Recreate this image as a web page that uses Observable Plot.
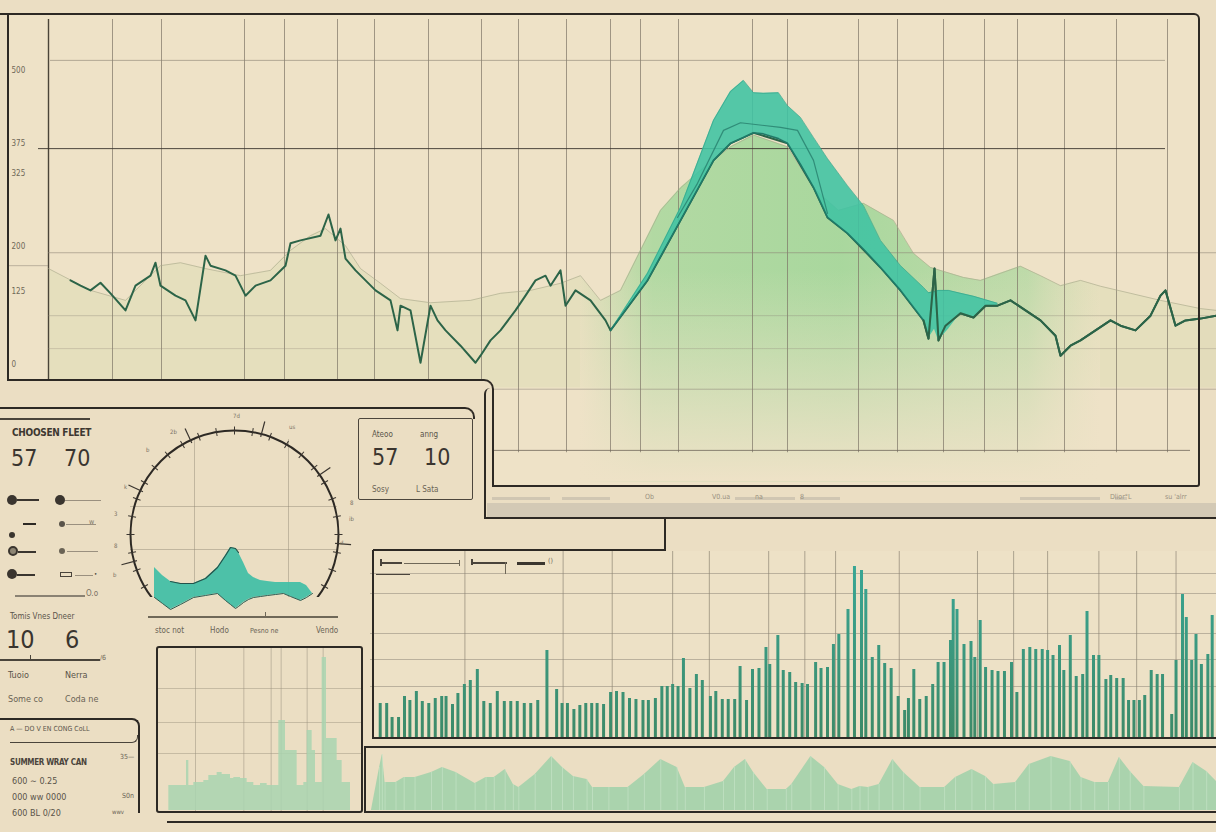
<!DOCTYPE html>
<html><head><meta charset="utf-8">
<script src="https://cdn.jsdelivr.net/npm/d3@7"></script>
<script src="https://cdn.jsdelivr.net/npm/@observablehq/plot@0.6"></script>
<style>
html,body{margin:0;padding:0;background:#ebdec3;}
#stage{position:relative;width:1216px;height:832px;overflow:hidden;background:#ebdec3;font-family:"DejaVu Sans Condensed","Liberation Sans Narrow",sans-serif;color:#4a443b;}
</style></head><body><div id="stage"></div>
<script>
// ---------- DATA ----------
// main chart (t = time index, v = value)
const yTicks = [0,125,200,325,375,500];
const gridT = [64,113,196,236,289,326,380,433,470,518,562,592,630,704,739,810,849,895,936,969,1016,1068,1119];
const mainT = [22,32,42,52,62,77,87,102,107,112,127,137,147,157,162,177,187,197,207,222,237,242,252,272,280,287,292,297,307,317,327,342,349,352,362,372,382,389,397,412,427,432,442,452,467,477,487,497,502,512,517,527,542,557,562,599,632,665,682,705,739,765,779,799,832,852,875,880,886,890,897,912,925,937,949,962,977,992,1007,1012,1022,1032,1047,1062,1072,1087,1102,1112,1117,1127,1137,1152,1168];
const mainV = [143,134,126,139,121,92,134,151,173,134,117,109,75,185,168,160,151,117,134,143,168,206,211,219,255,211,231,180,160,143,126,109,58,100,92,3,100,75,58,32,3,15,41,58,92,117,143,151,134,160,100,126,109,75,58,143,245,347,376,394,376,301,250,223,165,126,75,44,163,41,66,87,80,100,100,109,92,75,49,15,32,41,58,75,66,58,83,117,126,66,75,78,83];
const tealT  = [562,599,632,665,682,695,705,715,730,739,752,765,779,799,815,832,852,875,880,886,890,900,912,925,937,949];
const tealHi = [58,155,267,415,464,483,462,461,462,440,420,386,350,304,270,211,168,131,122,124,126,126,121,116,110,104];
const tealLo = [58,143,245,347,376,386,394,392,384,376,340,301,250,223,196,165,126,75,44,60,41,60,87,80,100,100];
const midT = [629,649,675,692,732,749,765,779];
const midV = [250,308,398,411,403,398,347,257];
const ridgeT = [0,42,77,112,132,157,192,222,242,262,277,297,312,332,352,382,422,452,482,512,532,552,572,612,632,652,682,705,739,765,790,815,845,865,882,915,932,952,972,992,1012,1032,1052,1082,1112,1152,1168];
const ridgeV = [163,126,109,168,173,163,151,160,194,219,231,202,163,138,112,105,109,121,126,138,151,109,126,262,300,330,370,390,370,300,262,274,245,189,165,148,143,155,167,151,134,143,133,121,109,95,92];

// bar chart
const barT = [18,30,40,52,63,73,85,96,108,120,132,140,152,162,174,185,198,210,222,235,248,260,272,285,297,310,327,345,355,365,377,388,399,410,420,432,445,456,468,480,492,505,515,528,540,550,560,570,580,592,604,615,630,640,652,663,675,685,697,708,720,733,740,755,765,777,788,800,810,825,835,847,858,868,885,897,910,918,930,942,953,965,978,990,997,1007,1018,1030,1042,1052,1063,1075,1080,1087,1100,1113,1120,1130,1140,1152,1163,1175,1188,1198,1210,1222,1233,1245,1255,1265,1277,1285,1297,1308,1320,1328,1340,1350,1363,1372,1383,1395,1405,1415,1425,1435,1447,1458,1468,1485,1493,1505,1512,1522,1530,1540,1552,1560];
const barV = [34,34,20,20,41,37,46,36,34,39,41,41,33,44,53,57,68,36,34,46,36,36,36,34,34,37,87,48,34,34,28,32,34,34,34,33,45,46,45,39,38,37,37,39,51,51,53,51,79,49,63,57,41,46,38,38,38,71,37,68,69,90,73,102,67,65,55,54,53,75,69,70,93,103,128,171,167,148,80,92,74,69,41,27,39,68,38,41,53,75,75,97,138,128,93,96,80,117,70,67,66,66,75,45,88,90,88,88,87,82,92,67,102,61,63,126,82,82,58,62,59,59,37,37,37,42,67,63,63,23,77,143,120,77,103,73,83,122];
const barGridT = [175,357,448,560,628,738,805,862,980,1125,1192,1255,1350,1420,1493];
const barGridV = [164,144,104,78,51];

// bottom wave strip
const waveT = [20,35,40,45,65,80,100,130,150,175,210,230,245,265,280,290,320,350,370,390,415,425,455,490,520,550,580,595,630,665,685,705,720,745,780,790,825,850,875,900,915,930,950,975,995,1025,1070,1090,1120,1145,1160,1200,1225,1265,1300,1320,1345,1370,1390,1410,1435,1500,1525,1550,1568];
const waveH = [0,43,56,28,28,33,33,38,43,38,27,33,33,41,26,23,36,54,43,34,31,23,23,23,36,51,43,23,23,29,43,51,38,21,21,26,54,43,26,21,24,23,26,51,38,23,23,33,41,34,26,28,46,54,49,33,28,28,53,39,24,23,48,39,29];

// small skyline panel
const skyX = [55,95,108,115,130,160,175,200,215,240,250,270,290,310,330,350,385,405,440,460,470,485,495,515,528,560,575,600];
const skyH = [25,25,50,25,28,30,35,38,36,32,33,32,28,25,27,25,90,60,25,28,80,60,28,153,72,50,28,0];
const skyGridX = [135,280,362,392,470,518];
const skyGridY = [122,88,57];

// gauge
const gaugeCenter = [{x:124, y:63}];
const gaugeMinor = [-120,-110,-100,-90,-80,-70,-60,-50,-40,-30,-20,-10,0,10,20,30,40,50,60,70,80,90,100,110,120];
const gaugeMajor = [-105,-65,-25,15,55,95];
const gaugeX  = [44,52,60,70,83,95,107,115,120,125,128,133,138,143,150,157,165,173,180,190,196,202];
const gaugeHi = [30,22,16,14,14,19,30,42,50,49,45,35,24,20,17,16,15,15,15,15,12,4];
const gaugeLo = [0,-6,-12,-7,0,2,4,-3,-7,-11,-9,-5,-2,0,1,2,3,4,1,-3,0,4];

// ---------- HELPERS ----------
const stage = document.getElementById("stage");
const PANEL = "#eee2c7";
const zip = (a, b, ka, kb) => a.slice(0, Math.min(a.length, b.length)).map((d, i) => ({[ka]: d, [kb]: b[i]}));
function box(l,t,w,h,css){const d=document.createElement("div");d.style.cssText=`position:absolute;left:${l}px;top:${t}px;width:${w}px;height:${h}px;box-sizing:border-box;${css||""}`;stage.appendChild(d);return d;}
function hl(l,t,w,th=2,c="#2d2924"){return box(l,t,w,th,`background:${c}`);}
function vl(l,t,h,th=2,c="#2d2924"){return box(l,t,th,h,`background:${c}`);}
function txt(l,t,s,size,css){const d=document.createElement("div");d.textContent=s;d.style.cssText=`position:absolute;left:${l}px;top:${t}px;font-size:${size}px;line-height:1;white-space:nowrap;${css||""}`;stage.appendChild(d);return d;}
function put(svg,l,t){svg.style.position="absolute";svg.style.left=l+"px";svg.style.top=t+"px";stage.appendChild(svg);return svg;}
const baseStyle = {background:"transparent",overflow:"visible",fontFamily:"DejaVu Sans Condensed, sans-serif"};
function grad(id, stops, vertical=true, user=null){
  return () => {
    const defs = d3.create("svg:defs");
    const g = defs.append("linearGradient").attr("id", id).attr("x1",0).attr("x2",vertical?0:1).attr("y1",0).attr("y2",vertical?1:0);
    if (user) g.attr("gradientUnits","userSpaceOnUse").attr("y1",user[0]).attr("y2",user[1]).attr("x1",0).attr("x2",0);
    stops.forEach(([o,c,a]) => g.append("stop").attr("offset",o).attr("stop-color",c).attr("stop-opacity",a));
    return defs.node();
  };
}

// ---------- MAIN PANEL ----------
box(8,15,1191,471,`background:${PANEL}`);

const mainData = zip(mainT, mainV, "t", "v");
const ridge = zip(ridgeT, ridgeV, "t", "v");
const teal = tealT.map((t,i)=>({t, hi: tealHi[i], lo: tealLo[i]}));
const mid = zip(midT, midV, "t", "v");
const hLines = [
  {v:517, x1:2,   x2:1117, c:"#8a8273", o:0.6},
  {v:367, x1:-10, x2:1117, c:"#3b362f", o:0.9},
  {v:190, x1:0,   x2:1168, c:"#8a8273", o:0.55},
  {v:168, x1:-41, x2:0,    c:"#8a8273", o:0.5},
  {v:83,  x1:0,   x2:1168, c:"#8a8273", o:0.35},
  {v:27,  x1:0,   x2:1168, c:"#8a8273", o:0.3},
  {v:-42, x1:446, x2:1168, c:"#8a8273", o:0.5},
  {v:-146,x1:446, x2:1142, c:"#6f685a", o:0.8}
];
const peakRidge = ridge.filter(d=>d.t>=532 && d.t<=1052);

const mainPlot = Plot.plot({
  width:1208, height:467, marginLeft:40, marginRight:0, marginTop:0, marginBottom:0,
  style: baseStyle,
  x:{domain:[0,1168], axis:null},
  y:{domain:[-207.4,586.5], axis:null},
  marks:[
    grad("peakGrad", [["0%","#a9d79e",0],["14%","#a9d89e",0.85],["50%","#a6d79c",0.95],["86%","#b4d9a4",0.8],["100%","#c8dcae",0]], false),
    grad("fadeGrad", [["0%",PANEL,0],["55%",PANEL,0.55],["100%",PANEL,1]], true),
    Plot.areaY(ridge, {x:"t", y1:-40, y2:"v", fill:"#d3d9ab", fillOpacity:0.35}),
    Plot.areaY(peakRidge, {x:"t", y1:-200, y2:"v", fill:"url(#peakGrad)"}),
    Plot.areaY(peakRidge, {x:"t", y1:-200, y2:160, fill:"url(#fadeGrad)"}),
    Plot.ruleX(gridT, {y1:-150, y2:586.5, stroke:"#7d7566", strokeOpacity:0.7, strokeWidth:1}),
    Plot.ruleX([0], {y1:-30, y2:586.5, stroke:"#4a4438", strokeWidth:1.4}),
    Plot.ruleY(hLines, {y:"v", x1:"x1", x2:"x2", stroke:"c", strokeOpacity:"o", strokeWidth:1}),
    Plot.axisY(yTicks, {anchor:"left", tickSize:0, tickPadding:0, textAnchor:"start", dx:-37, fontSize:8, fill:"#6f6858", color:"#6f6858"}),
    Plot.line(ridge, {x:"t", y:"v", stroke:"#a9a68a", strokeWidth:1, strokeOpacity:0.6}),
    Plot.line(mainData, {x:"t", y:"v", stroke:"#2c6448", strokeWidth:2, strokeLinejoin:"round"}),
    Plot.areaY(teal, {x:"t", y1:"lo", y2:"hi", fill:"#3fc3a3", fillOpacity:0.88}),
    Plot.line(teal, {x:"t", y:"hi", stroke:"#2f9e86", strokeWidth:1, strokeOpacity:0.6}),
    Plot.line(mid, {x:"t", y:"v", stroke:"#277e6d", strokeWidth:1.2, strokeOpacity:0.8}),
    Plot.line(teal.filter(d=>d.t<=875), {x:"t", y:"lo", stroke:"#1f7a68", strokeWidth:1.6}),
    Plot.line(mainData.filter(d=>d.t>=875), {x:"t", y:"v", stroke:"#2c6448", strokeWidth:2, strokeLinejoin:"round"})
  ]
});
put(mainPlot, 8, 19);

// outline of the main panel
box(0,13,1200,474,"border-top:2px solid #2d2924;border-right:2px solid #2d2924;border-bottom:2px solid #2d2924;border-radius:0 6px 3px 0");
vl(7,14,367,2);
// cover of the lower-left corner
box(0,381,492,110,"background:#ebdec3");
box(7,379,487,108,"border-top:2px solid #2d2924;border-right:2px solid #2d2924;border-top-right-radius:10px");
box(484,388,740,131,"border-left:2px solid #2d2924;border-bottom:2px solid #2d2924;border-top-left-radius:6px");
// grey strip under main panel
box(487,503,729,14,"background:#d3c9b5");
[[492,497,58],[562,497,48],[735,497,60],[800,497,40],[1020,497,80],[1115,497,12]].forEach(([l,t,w])=>hl(l,t,w,3,"#d0c6b2"));
txt(645,494,"Ob",7,"color:#9a9181");
txt(712,494,"V0.ua",7,"color:#9a9181");
txt(755,494,"na",7,"color:#9a9181");
txt(800,494,"8",7,"color:#9a9181");
txt(1110,494,"Dlior°L",7,"color:#9a9181");
txt(1165,494,"su 'alrr",7,"color:#9a9181");

// ---------- BAR PANEL ----------
box(373,551,843,186,"background:#ede1c6");
const bars = zip(barT, barV, "t", "v");
const barPlot = Plot.plot({
  width:846, height:186, margin:0, style: baseStyle,
  x:{domain:[0,1568], axis:null}, y:{domain:[0,186], axis:null},
  marks:[
    grad("barGrad", [["0%","#38a898",1],["100%","#3d8a68",1]], true, [0,186]),
    Plot.ruleX(barGridT, {stroke:"#7f7768", strokeOpacity:0.6}),
    Plot.ruleY(barGridV, {stroke:"#8a8273", strokeOpacity:0.5}),
    Plot.ruleX(bars, {x:"t", y1:0, y2:"v", stroke:"url(#barGrad)", strokeWidth:3})
  ]
});
put(barPlot, 370, 551);
box(373,517,293,34,"border-right:2px solid #2d2924;border-bottom:2px solid #2d2924");
box(372,550,850,189,"border-left:2px solid #2d2924;border-bottom:2px solid #2d2924");
// little legend marks
hl(380,562,22,2,"#4a443b"); vl(380,559,7,1.5,"#4a443b"); hl(404,563,55,1,"#6f6858"); vl(459,560,6,1,"#6f6858");
hl(471,562,36,2,"#4a443b"); vl(471,559,6,1.5,"#4a443b"); vl(505,562,12,1,"#6f6858");
hl(517,562,28,3,"#3b362f"); txt(548,558,"()",7,"color:#6f6858");
hl(376,574,34,1,"#4a443b");

// ---------- BOTTOM WAVE STRIP ----------
const wave = zip(waveT, waveH, "t", "h");
const wavePlot = Plot.plot({
  width:856, height:63, margin:0, style: baseStyle,
  x:{domain:[0,1568], axis:null}, y:{domain:[0,63], axis:null},
  marks:[
    Plot.areaY(wave, {x:"t", y:"h", fill:"#a6d2ac", fillOpacity:0.95}),
    Plot.ruleX(wave, {x:"t", y1:0, y2:"h", stroke:"#c4e2c6", strokeOpacity:0.7, strokeWidth:1})
  ]
});
put(wavePlot, 360, 747);
box(364,746,860,67,"border-top:2px solid #2d2924;border-left:2px solid #2d2924;border-bottom:2px solid #2d2924");
hl(167,821,1049,2,"#2d2924");

// ---------- SKYLINE PANEL ----------
const sky = zip(skyX, skyH, "x", "h");
const skyPlot = Plot.plot({
  width:207, height:166, margin:0, style: baseStyle,
  x:{domain:[18,639], axis:null}, y:{domain:[-2,164], axis:null},
  marks:[
    Plot.ruleX(skyGridX, {stroke:"#9a907d", strokeOpacity:0.5}),
    Plot.ruleY(skyGridY, {stroke:"#9a907d", strokeOpacity:0.45}),
    Plot.areaY(sky, {x:"x", y:"h", curve:"step-after", fill:"#a9d5b0", fillOpacity:0.85})
  ]
});
put(skyPlot, 156, 646);
box(156,646,207,167,"border:2px solid #2d2924;border-radius:3px");

// ---------- GAUGE ----------
const gaugeShape = gaugeX.map((x,i)=>({x, hi: gaugeHi[i], lo: gaugeLo[i]}));
const gaugePlot = Plot.plot({
  width:250, height:202, marginTop:0, marginLeft:0, marginRight:0, marginBottom:15, style: baseStyle,
  x:{domain:[0,250], axis:null}, y:{domain:[0,187], axis:null},
  marks:[
    Plot.ruleX([84,178], {y1:0, y2:158, stroke:"#8f8674", strokeOpacity:0.45}),
    Plot.ruleY([91,48], {x1:20, x2:227, stroke:"#8f8674", strokeOpacity:0.45}),
    Plot.dot(gaugeCenter, {x:"x", y:"y", r:104, stroke:"#2d2924", strokeWidth:2, fill:"none", clip:true}),
    Plot.vector(gaugeMinor, {x:124, y:63, rotate:d=>d, length:118, anchor:"start", r:0, stroke:"#3a352f", strokeWidth:1, strokeDasharray:"0 100 8 400", strokeLinecap:"butt"}),
    Plot.vector(gaugeMajor, {x:124, y:63, rotate:d=>d, length:125, anchor:"start", r:0, stroke:"#3a352f", strokeWidth:1.2, strokeDasharray:"0 101 16 400", strokeLinecap:"butt"}),
    Plot.areaY(gaugeShape, {x:"x", y1:"lo", y2:"hi", fill:"#44bfa6", fillOpacity:0.95}),
    Plot.line(gaugeShape.filter(d=>d.x>=60 && d.x<=128), {x:"x", y:"hi", stroke:"#24524a", strokeWidth:1.2}),
    Plot.line(gaugeShape, {x:"x", y:"lo", stroke:"#2d5c52", strokeWidth:1})
  ]
});
put(gaugePlot, 110, 410);
hl(148,616,190,1.5,"#6f6858"); vl(265,612,5,1,"#6f6858");
txt(155,627,"stoc not",8,"color:#6a6355");
txt(210,627,"Hodo",8,"color:#6a6355");
txt(250,628,"Pesno ne",7,"color:#6a6355");
txt(316,627,"Vendo",8,"color:#6a6355");
[[233,413,"7d"],[289,424,"us"],[170,429,"2b"],[146,447,"b"],[124,484,"k"],[114,511,"3"],[114,543,"8"],[113,572,"b"],[350,500,"8"],[349,516,"ib"],[340,540,"d"]].forEach(([l,t,s])=>txt(l,t,s,6,"color:#7a7263"));

// ---------- LEFT INFO PANEL ----------
box(-4,407,479,12,"border-top:2px solid #2d2924;border-right:2px solid #2d2924;border-top-right-radius:10px");
hl(0,418,90,1.5,"#4a443b");
txt(12,428,"CHOOSEN FLEET",10,"font-weight:bold;color:#3d3831;letter-spacing:-0.3px");
txt(11,447,"57",23,"color:#3a352f");
txt(64,447,"70",23,"color:#3a352f");
function dot(cx,cy,r,css){return box(cx-r,cy-r,2*r,2*r,`border-radius:50%;${css}`);}
dot(12,500,5,"background:#3a352f"); hl(17,499,22,2,"#3a352f");
dot(60,500,5,"background:#3a352f"); hl(65,500,36,1,"#9a907f");
hl(23,523,13,2,"#2d2924"); dot(62,524,3,"background:#5a544a"); hl(66,524,30,1,"#9a907f"); txt(89,519,"w",7,"color:#7a7263");
dot(12,535,3,"background:#3a352f");
dot(13,551,5,"border:2px solid #3a352f;background:#8d8574"); hl(18,551,18,1.5,"#3a352f"); dot(62,551,3,"background:#6a6355"); hl(67,551,31,1,"#9a907f");
dot(12,574,5,"background:#3a352f"); hl(17,574,18,2,"#3a352f"); box(60,572,12,5,"border:1px solid #4a443b"); hl(75,575,18,1,"#9a907f"); txt(94,571,"•",6,"color:#4a443b");
hl(15,595,70,1.5,"#8a8273"); txt(86,590,"O.o",8,"color:#7a7263");
txt(10,613,"Tomis Vnes Dneer",8,"color:#5a544a");
txt(6,627,"10",25,"color:#3a352f");
txt(65,627,"6",25,"color:#3a352f");
hl(0,659,100,1.5,"#4a443b"); vl(30,655,5,1,"#4a443b"); txt(100,655,"/6",7,"color:#6f6858");
txt(8,671,"Tuoio",9,"color:#5a544a");
txt(65,671,"Nerra",9,"color:#5a544a");
txt(8,695,"Some co",9,"color:#6a6355");
txt(65,695,"Coda ne",9,"color:#6a6355");

// right sub-box
box(358,418,115,82,"border:1.5px solid #4c463c;border-radius:2px");
txt(372,431,"Ateoo",8,"color:#5a544a");
txt(420,431,"anng",8,"color:#5a544a");
txt(372,446,"57",23,"color:#3a352f");
txt(424,446,"10",23,"color:#3a352f");
txt(372,486,"Sosy",8,"color:#6a6355");
txt(416,486,"L  Sata",8,"color:#6a6355");

// ---------- BOTTOM-LEFT PANEL ----------
box(-4,718,144,95,"border-top:2px solid #2d2924;border-right:2px solid #2d2924;border-top-right-radius:8px");
box(10,735,128,8,"border-bottom:1.5px solid #4a443b;border-right:1.5px solid #4a443b;border-bottom-right-radius:6px");
txt(10,726,"A — DO V EN CONG CoLL",7,"color:#5a544a");
txt(10,759,"SUMMER WRAY CAN",8,"color:#4a443b;font-weight:bold;letter-spacing:-0.3px");
txt(120,754,"35—",7,"color:#6a6355");
txt(12,777,"600  ∼ 0.25",9,"color:#5a544a");
txt(12,793,"000  ww  0000",9,"color:#5a544a");
txt(122,793,"S0n",7,"color:#6a6355");
txt(12,809,"600  BL 0/20",9,"color:#5a544a");
txt(112,809,"wwv",6,"color:#6a6355");
</script></body></html>
